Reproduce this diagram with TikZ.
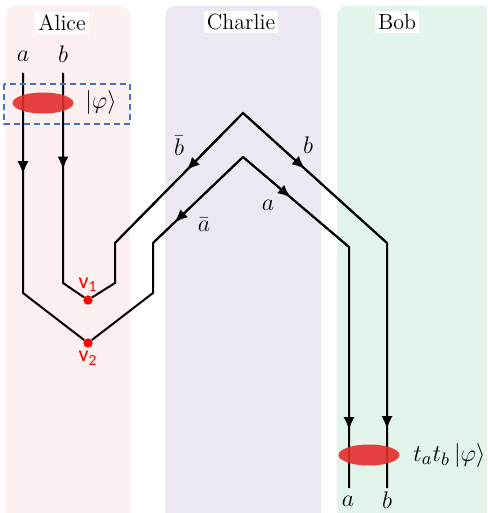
\documentclass[tikz,border=0pt]{standalone}
\usepackage{fontspec}
\usepackage{amsmath}
\usetikzlibrary{arrows.meta, decorations.markings, shapes.geometric, positioning}
\newfontfamily\vfont{Carlito}
\definecolor{alicebg}{RGB}{253,240,240}
\definecolor{charliebg}{RGB}{238,232,245}
\definecolor{bobbg}{RGB}{227,244,234}
\definecolor{boxblue}{RGB}{68,114,196}
\definecolor{statered}{RGB}{228,45,45}

\begin{document}
\begin{tikzpicture}[
    x=0.5pt, y=-0.5pt,
    panel/.style={rounded corners=5pt},
    party/.style={fill=white, inner sep=1.5pt, font=\fontsize{11}{13}\selectfont},
    lbl/.style={inner sep=1pt, font=\fontsize{13}{15}\selectfont},
    wire/.style={line width=1pt, black},
    arrowat/.style={postaction={decorate}, decoration={markings, mark=at position #1 with {\arrow{Latex[length=6.5pt,width=5.5pt]}}}},
    state/.style={ellipse, fill=statered, fill opacity=0.9, minimum width=30.5pt, minimum height=10.5pt, inner sep=0pt},
    vertex/.style={circle, fill=red, inner sep=0pt, minimum size=4.5pt},
    vlabel/.style={text=red, inner sep=1pt, font=\vfont\fontsize{11}{13}\selectfont}
]
\clip (0,0) rectangle (487,513);
% panels
\fill [alicebg, panel] (5,6) rectangle (130,540);
\fill [charliebg, panel] (165,6) rectangle (321,540);
\fill [bobbg, panel] (337,6) rectangle (500,540);
\node [party] (alice) at (62,23) {Alice};
\node [party] (charlie) at (241,22) {Charlie};
\node [party] (bob) at (397,22) {Bob};

% corners of the two wires
\coordinate (A1) at (23,73);
\coordinate (A2) at (23,293);
\coordinate (A3) at (153,293);
\coordinate (A4) at (153,243);
\coordinate (apexA) at (243,157);
\coordinate (A5) at (349,247);
\coordinate (A6) at (349,488);
\coordinate (B1) at (63,73);
\coordinate (B2) at (63,283);
\coordinate (B3) at (115,283);
\coordinate (B4) at (115,243);
\coordinate (apexB) at (243,113);
\coordinate (B5) at (387,243);
\coordinate (B6) at (387,488);
\node [vertex] (v1) at (88,300) {};
\node [vertex] (v2) at (88,343) {};

\draw [wire] (A1) -- (A2) -- (v2) -- (A3) -- (A4) -- (apexA) -- (A5) -- (A6);
\draw [wire] (B1) -- (B2) -- (v1) -- (B3) -- (B4) -- (apexB) -- (B5) -- (B6);
\node [vertex] at (v1) {};
\node [vertex] at (v2) {};

% arrow heads
\draw [wire, arrowat=0.46] (A1) -- (A2);
\draw [wire, arrowat=0.46] (B1) -- (B2);
\draw [wire, arrowat=0.44] (apexB) -- (B4);
\draw [wire, arrowat=0.43] (apexB) -- (B5);
\draw [wire, arrowat=0.45] (apexA) -- (A5);
\draw [wire, arrowat=0.76] (apexA) -- (A4);
\draw [wire, arrowat=0.76] (A5) -- (A6);
\draw [wire, arrowat=0.76] (B5) -- (B6);

% wire labels
\node [lbl] (aIn) at (23,56) {$a$};
\node [lbl] (bIn) at (63,54) {$b$};
\node [lbl] (bBar) at (179,146) {$\bar{b}$};
\node [lbl] (bMid) at (308,145) {$b$};
\node [lbl] (aMid) at (268,205) {$a$};
\node [lbl] (aBar) at (204,225) {$\bar{a}$};
\node [lbl] (aOut) at (348,501) {$a$};
\node [lbl] (bOut) at (387,500) {$b$};

% states
\draw [boxblue, line width=0.8pt, dash pattern=on 3pt off 2pt] (4,84) rectangle (130,124);
\node [state] (stA) at (43,103) {};
\node [lbl, right=4.5pt of stA] (phiA) {$|\varphi\rangle$};
\node [state] (stB) at (369,455) {};
\node [lbl, right=5.5pt of stB] (phiB) {$t_a t_b\,|\varphi\rangle$};

\node [vlabel, above=0.5pt of v1] (v1lab) {v\textsubscript{1}};
\node [vlabel, below=0.5pt of v2] (v2lab) {v\textsubscript{2}};
\end{tikzpicture}
\end{document}
